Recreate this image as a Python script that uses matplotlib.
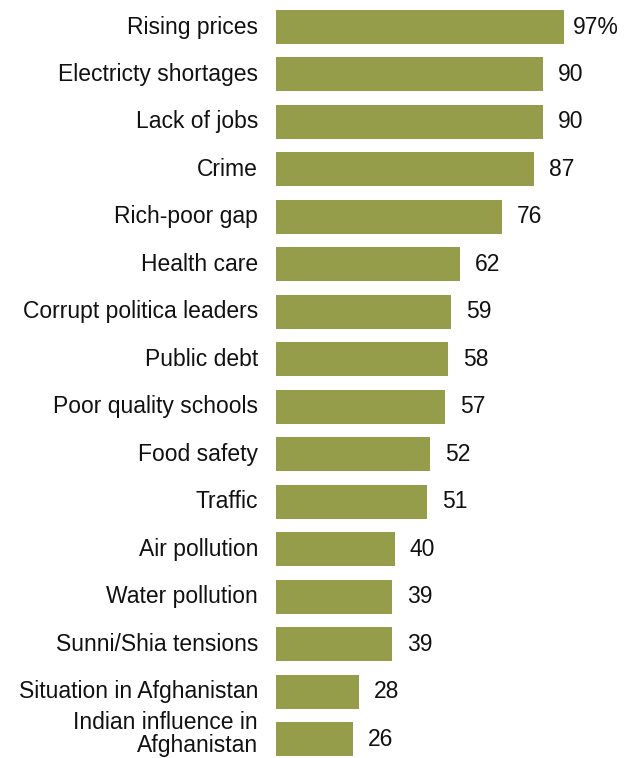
import matplotlib
matplotlib.use("Agg")
import matplotlib.pyplot as plt

# Share of people calling each issue a very big problem (%)
issues = [
    "Rising prices", "Electricty shortages", "Lack of jobs", "Crime",
    "Rich-poor gap", "Health care", "Corrupt politica leaders", "Public debt",
    "Poor quality schools", "Food safety", "Traffic", "Air pollution",
    "Water pollution", "Sunni/Shia tensions", "Situation in Afghanistan",
    "Indian influence in\nAfghanistan",
]
values = [97, 90, 90, 87, 76, 62, 59, 58, 57, 52, 51, 40, 39, 39, 28, 26]

bar_color = "#959d4a"
plt.rcParams["font.family"] = ["Liberation Sans", "DejaVu Sans"]

fig = plt.figure(figsize=(6.24, 7.58), dpi=100)
ax = fig.add_axes([276 / 624, 0, 1 - 276 / 624, 1])

pos = list(range(len(values)))
ax.barh(pos, values, height=0.716, color=bar_color)

ax.set_xlim(0, 117.2)
ax.set_ylim(15.40, -0.569)

for i, v in enumerate(values):
    txt = f"{v}%" if i == 0 else f"{v}"
    pad = 9 if i == 0 else 15
    ax.annotate(txt, (v, i), xytext=(pad * 0.72, 0), textcoords="offset points",
                ha="left", va="center", fontsize=16.5, color="#111111")
    # two-line label sits a little higher so it stays inside the figure
    dy = 5 if "\n" in issues[i] else 0
    ax.annotate(issues[i], (0, i), xytext=(-18 * 0.72, dy * 0.72), textcoords="offset points",
                ha="right", va="center", fontsize=16.5, color="#111111",
                multialignment="right", linespacing=0.98, annotation_clip=False)

ax.axis("off")
fig.savefig("out.png", dpi=100)
